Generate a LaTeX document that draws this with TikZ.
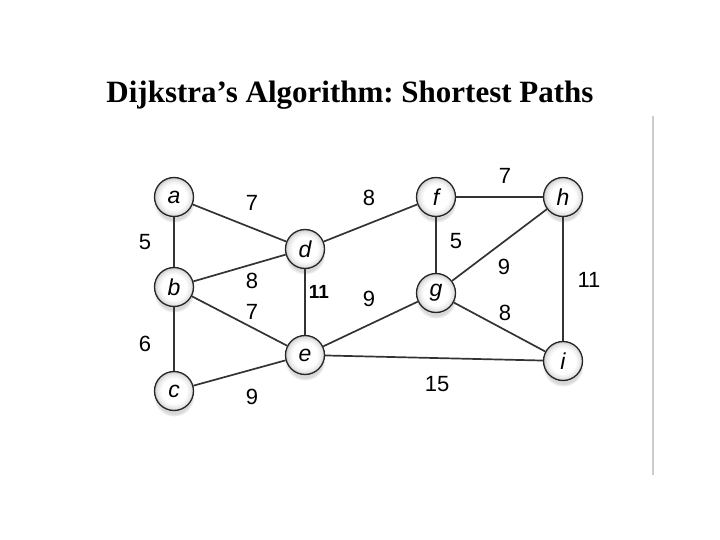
\documentclass[tikz,border=0pt]{standalone}
\usepackage{fontspec}
\setmainfont{Liberation Serif}
\newfontfamily\sansf{Liberation Sans}
\usetikzlibrary{shadows}
\pgfdeclareradialshading{vball}{\pgfpoint{0bp}{0bp}}{color(0bp)=(white); color(16bp)=(white); color(22bp)=(black!10); color(25bp)=(black!22); color(50bp)=(black!22)}
\begin{document}
\frenchspacing
\begin{tikzpicture}[x=1pt,y=-1pt,
  vertex/.style={circle, minimum size=39pt, inner sep=0pt, draw=black!85, line width=1.3pt,
    shading=vball,
    circular drop shadow={shadow xshift=0pt, shadow yshift=-5pt, shadow scale=1.05, opacity=0.3},
    font=\sansf\itshape\fontsize{23}{23}\selectfont},
  edge/.style={draw=black!80, line width=1.7pt},
  wlab/.style={font=\sansf\fontsize{22}{22}\selectfont, inner sep=0pt}]
\useasboundingbox (0,0) rectangle (720,540);
\fill[white] (0,0) rectangle (720,540);
\node[anchor=base, font=\bfseries\fontsize{31}{31}\selectfont] (title) at (350,103) {Dijkstra’s Algorithm: Shortest Paths};
\draw[black!20, line width=2pt] (653,116) -- (653,475);
% vertices
\node[vertex] (a) at (174,197) {a};
\node[vertex] (b) at (174,287) {b};
\node[vertex] (c) at (174,391) {c};
\node[vertex] (d) at (305,249) {d};
\node[vertex] (e) at (305,355) {e};
\node[vertex] (f) at (436,197) {f};
\node[vertex] (g) at (436,293) {g};
\node[vertex] (h) at (563,197) {h};
\node[vertex] (i) at (563,361) {i};
% edges
\draw[edge] (a) -- (b);
\draw[edge] (a) -- (d);
\draw[edge] (b) -- (d);
\draw[edge] (b) -- (e);
\draw[edge] (b) -- (c);
\draw[edge] (c) -- (e);
\draw[edge] (d) -- (e);
\draw[edge] (d) -- (f);
\draw[edge] (e) -- (g);
\draw[edge] (e) -- (i);
\draw[edge] (f) -- (g);
\draw[edge] (f) -- (h);
\draw[edge] (g) -- (h);
\draw[edge] (g) -- (i);
\draw[edge] (h) -- (i);
% weights
\node[wlab] (wab) at (145,242) {5};
\node[wlab] (wad) at (252,203) {7};
\node[wlab] (wbd) at (252,281) {8};
\node[wlab] (wbe) at (252,312) {7};
\node[wlab] (wbc) at (145,344) {6};
\node[wlab] (wce) at (252,397) {9};
\node[wlab, font=\sansf\bfseries\fontsize{19}{19}\selectfont] (wde) at (319,292) {11};
\node[wlab] (wdf) at (369,198) {8};
\node[wlab] (weg) at (369,299) {9};
\node[wlab] (wei) at (437,384) {15};
\node[wlab] (wfg) at (456,241) {5};
\node[wlab] (wfh) at (505,176) {7};
\node[wlab] (wgh) at (504,267) {9};
\node[wlab] (wgi) at (505,313) {8};
\node[wlab] (whi) at (589,280) {11};
\end{tikzpicture}
\end{document}
